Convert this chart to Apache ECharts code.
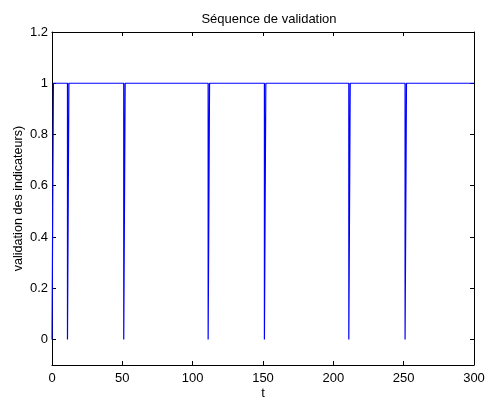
<!DOCTYPE html>
<html><head><meta charset="utf-8">
<script src="https://cdn.jsdelivr.net/npm/echarts@6/dist/echarts.min.js"></script>
<style>html,body{margin:0;padding:0;background:#fff}#c{width:485px;height:398px}</style>
</head><body><div id="c"></div>
<script>
// Data
const dipStarts = [0, 11, 51, 111, 151, 211, 251]; // times where the validation drops to 0
const dipLength = 1;
const highValue = 1;
const lowValue = 0;
const tEnd = 300;
const xTicks = [0, 50, 100, 150, 200, 250, 300];
const yTicks = [0, 0.2, 0.4, 0.6, 0.8, 1, 1.2];

// Build polyline vertices
const pts = [];
dipStarts.forEach((d) => {
  if (d === 0) { pts.push([0, lowValue]); pts.push([dipLength, highValue]); return; }
  pts.push([d, highValue]); pts.push([d, lowValue]);
  pts.push([d + dipLength, lowValue]); pts.push([d + dipLength, highValue]);
});
pts.push([tEnd, highValue]);

const font = 'Liberation Sans, Arial, sans-serif';
const chart = echarts.init(document.getElementById('c'), null, {renderer: 'canvas'});
const axisCommon = {
  axisLine: {show: true, onZero: false, lineStyle: {color: '#000', width: 1}},
  axisTick: {show: true, inside: true, length: 4, lineStyle: {color: '#000'}},
  splitLine: {show: false}
};
chart.setOption({
  animation: false,
  backgroundColor: '#fff',
  title: {text: 'Séquence de validation', left: 264, top: 8, textAlign: 'center',
    textStyle: {fontFamily: font, fontSize: 13, fontWeight: 'normal', color: '#000'}},
  grid: {left: 52, right: 11, top: 32, bottom: 33, containLabel: false, outerBoundsMode: 'none'},
  xAxis: [
    Object.assign({type: 'value', min: 0, max: 300, interval: 50, position: 'bottom',
      name: 't', nameLocation: 'middle', nameGap: 22, nameMoveOverlap: false,
      nameTextStyle: {fontFamily: font, fontSize: 13, color: '#000'},
      axisLabel: {fontFamily: font, fontSize: 13, color: '#000', margin: 7,
        customValues: xTicks}}, axisCommon),
    Object.assign({type: 'value', min: 0, max: 300, interval: 50, position: 'top',
      axisLabel: {show: false}}, axisCommon)
  ],
  yAxis: [
    Object.assign({type: 'value', min: -0.1, max: 1.2, position: 'left',
      name: 'validation des indicateurs)', nameLocation: 'middle', nameGap: 27, nameMoveOverlap: false,
      nameTextStyle: {fontFamily: font, fontSize: 12.6, color: '#000'},
      axisLabel: {fontFamily: font, fontSize: 13, color: '#000', margin: 4, customValues: yTicks,
        formatter: v => String(Math.round(v * 10) / 10)}}, axisCommon,
      {axisTick: {show: true, inside: true, length: 4, customValues: yTicks, lineStyle: {color: '#000'}}}),
    Object.assign({type: 'value', min: -0.1, max: 1.2, position: 'right',
      axisLabel: {show: false, customValues: yTicks}}, axisCommon,
      {axisTick: {show: true, inside: true, length: 4, customValues: yTicks, lineStyle: {color: '#000'}}})
  ],
  series: [{
    type: 'line', data: pts, showSymbol: false, symbol: 'none',
    lineStyle: {color: '#0000ff', width: 1.2}, xAxisIndex: 0, yAxisIndex: 0
  }]
});
</script></body></html>
